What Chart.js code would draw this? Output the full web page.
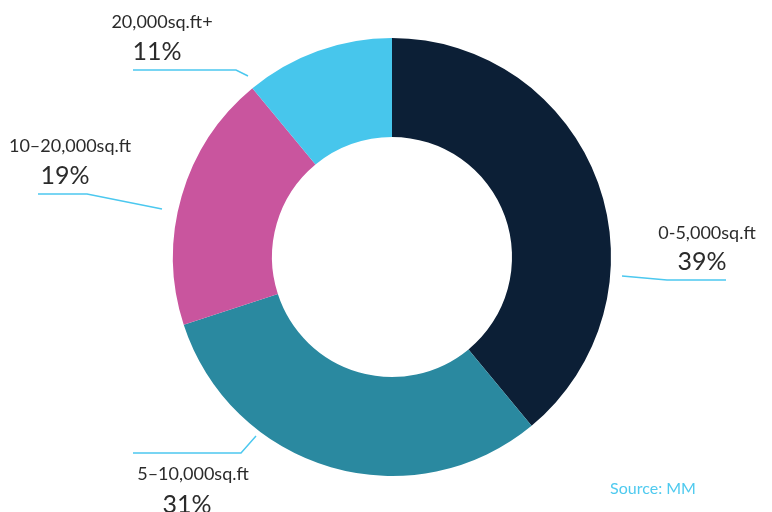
<!DOCTYPE html>
<html>
<head>
<meta charset="utf-8">
<script src="https://cdn.jsdelivr.net/npm/chart.js@4"></script>
<style>
  html, body { margin: 0; padding: 0; background: #ffffff; }
  #wrap { position: relative; width: 772px; height: 512px; }
</style>
</head>
<body>
<div id="wrap"><canvas id="sizeChart"></canvas></div>
<script>
  const categories = ['0-5,000sq.ft', '5\u201310,000sq.ft', '10\u201320,000sq.ft', '20,000sq.ft+'];
  const shares = [39, 31, 19, 11];
  const sliceColors = ['#0c1f36', '#2a89a0', '#c9559e', '#47c6ec'];

  // hand-placed callouts (name centre x, name baseline, pct centre x, pct baseline, leader points)
  const callouts = [
    { nx: 707, ny: 239, px: 702, py: 270, line: [[622, 276], [667, 280], [726, 280]] },
    { nx: 193, ny: 480, px: 187, py: 513, line: [[256, 436], [241, 453], [133, 453]] },
    { nx: 70, ny: 152, px: 65, py: 184, line: [[162, 209], [87, 194], [38, 194]] },
    { nx: 162, ny: 28, px: 157, py: 60, line: [[248, 76], [236, 70], [133, 70]] }
  ];

  const calloutPlugin = {
    id: 'callouts',
    afterDraw: (chart) => {
      const ctx = chart.ctx;
      ctx.save();
      callouts.forEach((c, i) => {
        ctx.strokeStyle = '#4cc8ef';
        ctx.lineWidth = 1.5;
        ctx.beginPath();
        c.line.forEach((p, j) => j === 0 ? ctx.moveTo(p[0], p[1]) : ctx.lineTo(p[0], p[1]));
        ctx.stroke();

        ctx.fillStyle = '#2b2b2b';
        ctx.textAlign = 'center';
        ctx.textBaseline = 'alphabetic';
        ctx.font = '18px Lato';
        ctx.fillText(categories[i], c.nx, c.ny);
        ctx.font = '25px Lato';
        ctx.fillText(shares[i] + '%', c.px, c.py);
      });
      ctx.fillStyle = '#4fcaef';
      ctx.font = '16px Lato';
      ctx.textAlign = 'center';
      ctx.fillText('Source: MM', 653, 494);
      ctx.restore();
    }
  };

  new Chart(document.getElementById('sizeChart'), {
    type: 'doughnut',
    data: {
      labels: categories,
      datasets: [{
        data: shares,
        backgroundColor: sliceColors,
        borderWidth: 0
      }]
    },
    options: {
      responsive: true,
      maintainAspectRatio: false,
      animation: false,
      cutout: '54.8%',
      layout: { padding: { top: 38, bottom: 36, left: 12, right: 0 } },
      plugins: {
        legend: { display: false },
        tooltip: { enabled: false }
      }
    },
    plugins: [calloutPlugin]
  });
</script>
</body>
</html>
